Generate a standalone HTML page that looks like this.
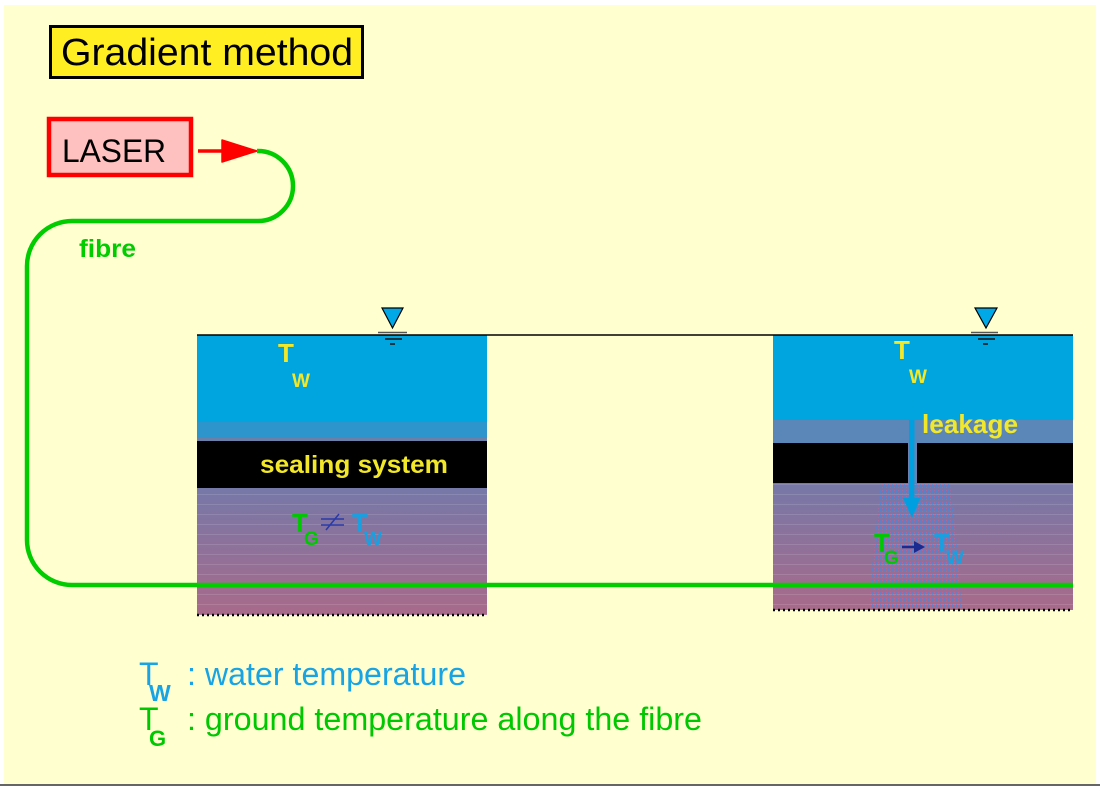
<!DOCTYPE html>
<html>
<head>
<meta charset="utf-8">
<style>
html,body{margin:0;padding:0;background:#ffffff;}
body{width:1100px;height:789px;overflow:hidden;}
svg{display:block;}
text{font-family:"Liberation Sans", Arial, sans-serif;}
</style>
</head>
<body>
<svg width="1100" height="789" viewBox="0 0 1100 789" xmlns="http://www.w3.org/2000/svg">
  <defs>
    <linearGradient id="ground" x1="0" y1="0" x2="0" y2="1">
      <stop offset="0" stop-color="#7678A8"/>
      <stop offset="1" stop-color="#A86A8A"/>
    </linearGradient>
    <pattern id="stripes" width="10" height="10" patternUnits="userSpaceOnUse">
      <rect x="0" y="4" width="10" height="1" fill="#ffffff" fill-opacity="0.12"/>
    </pattern>
    <pattern id="leakdots" width="4" height="3" patternUnits="userSpaceOnUse">
      <rect x="0" y="0" width="1" height="2" fill="#3A8CE8" fill-opacity="0.55"/>
      <rect x="2" y="1" width="1" height="1" fill="#E05A9A" fill-opacity="0.45"/>
    </pattern>
  </defs>

  <!-- page background -->
  <rect x="4" y="5" width="1092" height="779" fill="#FFFFD0"/>
  <rect x="0" y="784" width="1100" height="2" fill="#666666"/>

  <!-- Title -->
  <rect x="50.5" y="26.5" width="312" height="51" fill="#FFEE22" stroke="#000" stroke-width="3"/>
  <text x="61" y="65" font-size="38" fill="#000" textLength="292" lengthAdjust="spacingAndGlyphs">Gradient method</text>

  <!-- LASER -->
  <rect x="49" y="119" width="142" height="56" fill="#FFC0C0" stroke="#FF0000" stroke-width="4.5"/>
  <text x="62" y="162" font-size="32" fill="#000" textLength="104" lengthAdjust="spacingAndGlyphs">LASER</text>

  <!-- red arrow -->
  <line x1="198" y1="151" x2="226" y2="151" stroke="#FF0000" stroke-width="3.5"/>
  <polygon points="222,140 257,151 222,162" fill="#FF0000" stroke="#FF0000" stroke-width="1.5" stroke-linejoin="round"/>

  <!-- LEFT TANK -->
  <rect x="197" y="335" width="290" height="88" fill="#00A5E0"/>
  <rect x="197" y="422" width="290" height="16" fill="#2E95CC"/>
  <rect x="197" y="438" width="290" height="3" fill="#6A80A8"/>
  <rect x="197" y="441" width="290" height="47" fill="#000000"/>
  <rect x="197" y="488" width="290" height="127" fill="url(#ground)"/>
  <rect x="197" y="488" width="290" height="127" fill="url(#stripes)"/>
  <line x1="197" y1="615" x2="487" y2="615" stroke="#000" stroke-width="2.5" stroke-dasharray="2,3"/>

  <!-- RIGHT TANK -->
  <rect x="773" y="335" width="300" height="86" fill="#00A5E0"/>
  <rect x="773" y="420" width="300" height="23" fill="#5A86B8"/>
  <rect x="773" y="443" width="300" height="40" fill="#6E80B0"/>
  <rect x="773" y="483" width="300" height="127" fill="url(#ground)"/>
  <rect x="773" y="483" width="300" height="127" fill="url(#stripes)"/>
  <rect x="773" y="443" width="135" height="40" fill="#000000"/>
  <rect x="917" y="443" width="156" height="40" fill="#000000"/>
  <path d="M881,483 L950,483 C955,530 961,570 961,610 L870,610 C870,570 876,530 881,483 Z" fill="url(#leakdots)"/>
  <line x1="773" y1="610" x2="1073" y2="610" stroke="#000" stroke-width="2.5" stroke-dasharray="2,3"/>

  <!-- leakage arrow -->
  <rect x="909" y="420" width="5.5" height="82" fill="#00A0E0"/>
  <polygon points="903,498 920.5,498 912,518" fill="#00A0E0"/>

  <!-- surface line -->
  <line x1="197" y1="335" x2="1073" y2="335" stroke="#000" stroke-width="1.5"/>

  <!-- water level symbols -->
  <polygon points="382,308 403,308 392.5,328" fill="#00A8E8" stroke="#000" stroke-width="1.2"/>
  <line x1="378" y1="332.5" x2="407" y2="332.5" stroke="#555" stroke-width="1.5"/>
  <line x1="385" y1="339" x2="402" y2="339" stroke="#111" stroke-width="1.5"/>
  <line x1="390" y1="344" x2="395" y2="344" stroke="#111" stroke-width="1.5"/>

  <polygon points="975,308 997,308 986,328" fill="#00A8E8" stroke="#000" stroke-width="1.2"/>
  <line x1="971" y1="332.5" x2="998" y2="332.5" stroke="#555" stroke-width="1.5"/>
  <line x1="978" y1="339" x2="995" y2="339" stroke="#111" stroke-width="1.5"/>
  <line x1="983" y1="344" x2="988" y2="344" stroke="#111" stroke-width="1.5"/>

  <!-- fibre -->
  <path d="M257,151 L258,151 A35,35 0 0 1 258,221 L72,221 A45,45 0 0 0 27,266 L27,540 A45,45 0 0 0 72,585 L1073,585" fill="none" stroke="#00CC00" stroke-width="4.5"/>
  <text x="79" y="257" font-size="25" font-weight="bold" fill="#00CC00" textLength="57" lengthAdjust="spacingAndGlyphs">fibre</text>

  <!-- left tank labels -->
  <text x="278" y="362" font-size="26" font-weight="bold" fill="#F2E829">T</text>
  <text x="292" y="387" font-size="19" font-weight="bold" fill="#F2E829">W</text>
  <text x="260" y="473" font-size="25" font-weight="bold" fill="#F2E829" textLength="188" lengthAdjust="spacingAndGlyphs">sealing system</text>

  <text x="292" y="532" font-size="26" font-weight="bold" fill="#00C800">T</text>
  <text x="304" y="545" font-size="19" font-weight="bold" fill="#00C800">G</text>
  <line x1="321" y1="519" x2="344" y2="519" stroke="#2A3AA8" stroke-width="1.5"/>
  <line x1="321" y1="525" x2="344" y2="525" stroke="#2A3AA8" stroke-width="1.5"/>
  <line x1="326" y1="530" x2="339" y2="514" stroke="#2A3AA8" stroke-width="1.5"/>
  <text x="352" y="532" font-size="26" font-weight="bold" fill="#18A0E0">T</text>
  <text x="364" y="545" font-size="19" font-weight="bold" fill="#18A0E0">W</text>

  <!-- right tank labels -->
  <text x="894" y="359" font-size="26" font-weight="bold" fill="#F2E829">T</text>
  <text x="909" y="383" font-size="19" font-weight="bold" fill="#F2E829">W</text>
  <text x="922" y="433" font-size="26" font-weight="bold" fill="#F2E829" textLength="96" lengthAdjust="spacingAndGlyphs">leakage</text>

  <text x="874" y="552" font-size="26" font-weight="bold" fill="#00C800">T</text>
  <text x="884" y="564" font-size="19" font-weight="bold" fill="#00C800">G</text>
  <line x1="902" y1="547" x2="916" y2="547" stroke="#1A2A90" stroke-width="2.5"/>
  <polygon points="914,541 925,547 914,553" fill="#1A2A90"/>
  <text x="934" y="552" font-size="26" font-weight="bold" fill="#18A0E0">T</text>
  <text x="946" y="564" font-size="19" font-weight="bold" fill="#18A0E0">W</text>

  <!-- legend -->
  <text x="139" y="685" font-size="32" fill="#18A4E4">T</text>
  <text x="149" y="701" font-size="23" font-weight="bold" fill="#18A4E4">W</text>
  <text x="187" y="685" font-size="32" fill="#18A4E4" textLength="279" lengthAdjust="spacingAndGlyphs">: water temperature</text>

  <text x="139" y="730" font-size="32" fill="#00C800">T</text>
  <text x="149" y="746" font-size="22" font-weight="bold" fill="#00C800">G</text>
  <text x="187" y="730" font-size="32" fill="#00C800" textLength="515" lengthAdjust="spacingAndGlyphs">: ground temperature along the fibre</text>
</svg>
</body>
</html>
